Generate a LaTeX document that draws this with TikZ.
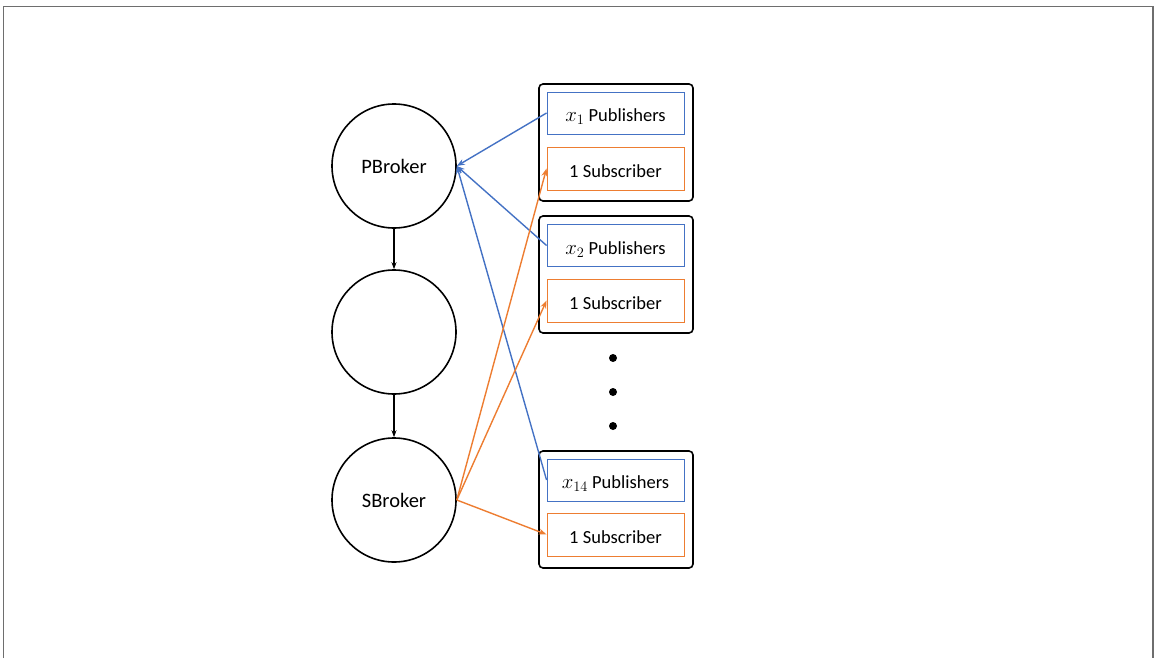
\documentclass[tikz,border=0pt]{standalone}
\usepackage{fontspec}
\setmainfont{Carlito}
\usetikzlibrary{arrows.meta}
\definecolor{pubblue}{HTML}{4472C4}
\definecolor{suborange}{HTML}{ED7D31}
\definecolor{framegray}{HTML}{6E6E6E}
\newcommand{\pubvar}[1]{{\fontsize{21.5}{24}\selectfont$x_{#1}$}}
\begin{document}
\begin{tikzpicture}[x=1pt,y=-1pt,
  broker/.style={draw=black,line width=1.6pt,circle,minimum size=124pt,inner sep=0pt,font=\fontsize{20.5}{24}\selectfont},
  group/.style={draw=black,line width=1.6pt,rounded corners=4pt,minimum width=154pt,minimum height=117pt,inner sep=0pt},
  pubbox/.style={draw=pubblue,line width=0.9pt,minimum width=137pt,minimum height=42pt,inner sep=0pt,text height=17pt,text depth=0pt,font=\fontsize{18.5}{22}\selectfont},
  subbox/.style={draw=suborange,line width=0.9pt,minimum width=137pt,minimum height=43pt,inner sep=0pt,text height=17pt,text depth=0pt,font=\fontsize{18.5}{22}\selectfont},
  flow/.style={line width=1.4pt,-{Stealth[length=8pt,width=6pt]}},
  dot/.style={circle,fill=black,minimum size=8pt,inner sep=0pt}]
\useasboundingbox (0,0) rectangle (1155,658);
% page frame
\draw[framegray,line width=1.5pt] (3.5,658) -- (3.5,6.5) -- (1153,6.5) -- (1153,658);

% brokers
\node[broker] (pb) at (394,166) {PBroker};
\node[broker] (mid) at (394,332) {};
\node[broker] (sb) at (394,500) {SBroker};
\draw[flow,line width=1.2pt,-{Stealth[length=7pt,width=5pt]}] (pb) -- (mid);
\draw[flow,line width=1.2pt,-{Stealth[length=7pt,width=5pt]}] (mid) -- (sb);

% client groups
\node[group] (g1) at (616,142.5) {};
\node[pubbox] (pub1) at (615.5,113) {\pubvar{1} Publishers};
\node[subbox] (sub1) at (615.5,168.5) {1 Subscriber};

\node[group] (g2) at (616,274.5) {};
\node[pubbox] (pub2) at (615.5,245.5) {\pubvar{2} Publishers};
\node[subbox] (sub2) at (615.5,300.5) {1 Subscriber};

\node[group] (g3) at (616,509.5) {};
\node[pubbox] (pub3) at (615.5,480) {\pubvar{14} Publishers};
\node[subbox] (sub3) at (615.5,534.5) {1 Subscriber};

% ellipsis
\node[dot] (d1) at (613,358) {};
\node[dot] (d2) at (613,392) {};
\node[dot] (d3) at (613,426) {};

% publishers to PBroker
\draw[flow,pubblue] (pub1.west) -- (pb.east);
\draw[flow,pubblue] (pub2.west) -- (pb.east);
\draw[flow,pubblue] (pub3.west) -- (pb.east);

% SBroker to subscribers
\draw[flow,suborange] (sb.east) -- (sub1.west);
\draw[flow,suborange] (sb.east) -- (sub2.west);
\draw[flow,suborange] (sb.east) -- (sub3.west);
\end{tikzpicture}
\end{document}
